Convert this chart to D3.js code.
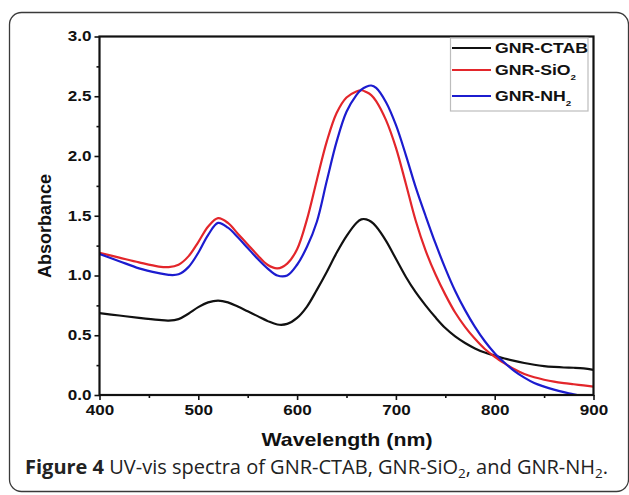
<!DOCTYPE html>
<html lang="en">
<head>
<meta charset="UTF-8">
<title>UV-vis spectra</title>
<script src="https://cdn.jsdelivr.net/npm/d3@7"></script>
<style>
  body { margin: 0; background: #fff; }
  svg { display: block; }
</style>
</head>
<body>
<div id="chart"></div>
<script>
// wavelength grid (nm)
const wavelengths = [400,420,440,460,470,480,490,500,510,520,530,540,550,560,570,580,590,600,610,620,
  630,640,650,660,665,670,675,680,690,700,710,720,730,740,750,760,770,780,790,800,
  810,820,830,840,850,860,870,880,890,900];

const ctab = [0.685,0.665,0.645,0.628,0.623,0.635,0.68,0.735,0.775,0.79,0.775,0.74,0.70,0.66,0.62,0.59,0.595,0.645,0.74,0.88,
  1.03,1.19,1.33,1.44,1.47,1.47,1.45,1.41,1.29,1.14,0.99,0.86,0.75,0.65,0.56,0.49,0.435,0.39,0.355,0.33,
  0.305,0.285,0.268,0.253,0.242,0.235,0.23,0.228,0.223,0.21];

const sio2 = [1.19,1.15,1.11,1.075,1.07,1.09,1.16,1.28,1.41,1.48,1.44,1.35,1.26,1.17,1.09,1.06,1.10,1.22,1.47,1.80,
  2.12,2.36,2.49,2.54,2.55,2.535,2.51,2.46,2.30,2.07,1.77,1.46,1.21,1.01,0.84,0.69,0.57,0.47,0.385,0.32,
  0.265,0.215,0.175,0.148,0.128,0.112,0.10,0.09,0.08,0.07];

const nh2 = [1.18,1.12,1.06,1.02,1.005,1.01,1.07,1.19,1.34,1.44,1.40,1.32,1.23,1.14,1.06,1.00,1.00,1.09,1.24,1.45,
  1.79,2.12,2.37,2.51,2.555,2.58,2.59,2.57,2.45,2.26,2.01,1.74,1.50,1.27,1.06,0.87,0.71,0.57,0.45,0.35,
  0.27,0.20,0.145,0.10,0.07,0.045,0.024,0.006,-0.015,-0.035];

const seriesNames = ['GNR-CTAB', 'GNR-SiO', 'GNR-NH'];
const seriesSubs = ['', '2', '2'];
const seriesColors = ['#111111', '#e3262b', '#1c1ccf'];
const seriesValues = [ctab, sio2, nh2];

const xTicks = [400, 500, 600, 700, 800, 900];
const yTicks = [0.0, 0.5, 1.0, 1.5, 2.0, 2.5, 3.0];

const W = 629, H = 495;
const stretch = 1.22; // original figure is stretched horizontally

const svg = d3.select('#chart').append('svg')
  .attr('width', W).attr('height', H);

// rounded figure frame
svg.append('rect')
  .attr('x', 9.5).attr('y', 12.5)
  .attr('width', 619).attr('height', 479)
  .attr('rx', 12)
  .attr('fill', 'none')
  .attr('stroke', '#3a3a3a')
  .attr('stroke-width', 1.3);

const x = d3.scaleLinear().domain([400, 900]).range([99.5, 593.5]);
const y = d3.scaleLinear().domain([0, 3]).range([395, 36.5]);

svg.append('clipPath').attr('id', 'plotclip')
  .append('rect')
  .attr('x', x(400)).attr('y', y(3))
  .attr('width', x(900) - x(400)).attr('height', y(0) - y(3));

// curves
const line = d3.line()
  .x((d, i) => x(wavelengths[i]))
  .y(d => y(d))
  .curve(d3.curveCatmullRom);

const curves = svg.append('g').attr('clip-path', 'url(#plotclip)');
seriesValues.forEach((vals, k) => {
  curves.append('path')
    .datum(vals)
    .attr('d', line)
    .attr('fill', 'none')
    .attr('stroke', seriesColors[k])
    .attr('stroke-width', 2.2)
    .attr('stroke-linejoin', 'round');
});

// horizontal stretch of a label around its anchor
function stretchText(sel, tx) {
  sel.attr('transform', `translate(${tx},0) scale(${stretch},1) translate(${-tx},0)`);
}

const xAxis = svg.append('g')
  .attr('transform', `translate(0,${y(0)})`)
  .call(d3.axisBottom(x).tickValues(xTicks).tickFormat(d3.format('d')).tickSize(5).tickPadding(5));
xAxis.append('g').call(d3.axisBottom(x).tickValues([450, 550, 650, 750, 850]).tickSize(3).tickFormat(''));

const yAxis = svg.append('g')
  .attr('transform', `translate(${x(400)},0)`)
  .call(d3.axisLeft(y).tickValues(yTicks).tickFormat(d3.format('.1f')).tickSize(5).tickPadding(3));
yAxis.append('g').call(d3.axisLeft(y).tickValues([0.25, 0.75, 1.25, 1.75, 2.25, 2.75]).tickSize(3).tickFormat(''));

[xAxis, yAxis].forEach(a => {
  a.selectAll('.domain').remove();
  a.selectAll('line').attr('stroke', '#111').attr('stroke-width', 1.6);
  a.selectAll('text')
    .attr('font-family', 'Liberation Sans, Arial, sans-serif')
    .attr('font-weight', 'bold')
    .attr('font-size', 14)
    .attr('fill', '#111');
});
xAxis.selectAll('.tick text').attr('transform', `scale(${stretch},1)`);
yAxis.selectAll('.tick text').each(function () {
  const t = d3.select(this);
  stretchText(t, +t.attr('x'));
});

// plot box
svg.append('rect')
  .attr('x', x(400)).attr('y', y(3))
  .attr('width', x(900) - x(400)).attr('height', y(0) - y(3))
  .attr('fill', 'none')
  .attr('stroke', '#111')
  .attr('stroke-width', 2.2);

// axis titles
const xt = svg.append('text')
  .attr('x', 347).attr('y', 446)
  .attr('text-anchor', 'middle')
  .attr('font-family', 'Liberation Sans, Arial, sans-serif')
  .attr('font-weight', 'bold')
  .attr('font-size', 17.5)
  .attr('fill', '#111')
  .text('Wavelength (nm)');
stretchText(xt, 347);

svg.append('text')
  .attr('transform', `translate(51,226) rotate(-90)`)
  .attr('text-anchor', 'middle')
  .attr('font-family', 'Liberation Sans, Arial, sans-serif')
  .attr('font-weight', 'bold')
  .attr('font-size', 18)
  .attr('fill', '#111')
  .text('Absorbance');

// legend
const lg = svg.append('g');
lg.append('rect')
  .attr('x', 450.5).attr('y', 38)
  .attr('width', 137.5).attr('height', 73)
  .attr('fill', '#fff')
  .attr('stroke', '#bdbdbd')
  .attr('stroke-width', 1.2);
const legendY = [48, 70, 96];
seriesNames.forEach((name, k) => {
  lg.append('line')
    .attr('x1', 452).attr('x2', 491)
    .attr('y1', legendY[k]).attr('y2', legendY[k])
    .attr('stroke', seriesColors[k])
    .attr('stroke-width', 2.2);
  const t = lg.append('text')
    .attr('x', 495).attr('y', legendY[k] + 5)
    .attr('font-family', 'Liberation Sans, Arial, sans-serif')
    .attr('font-weight', 'bold')
    .attr('font-size', 14.5)
    .attr('fill', '#111');
  t.append('tspan').text(name);
  if (seriesSubs[k]) {
    t.append('tspan').attr('font-size', 8).attr('dy', 5).text(seriesSubs[k]);
  }
  stretchText(t, 495);
});

// caption
const cap = svg.append('text')
  .attr('x', 25).attr('y', 474)
  .attr('font-family', 'Open Sans, Noto Sans, sans-serif')
  .attr('font-size', 20)
  .attr('fill', '#222');
cap.append('tspan').attr('font-weight', 'bold').text('Figure 4');
cap.append('tspan').text(' UV-vis spectra of GNR-CTAB, GNR-SiO');
cap.append('tspan').attr('font-size', 13.5).attr('dy', 4).text('2');
cap.append('tspan').attr('dy', -4).text(', and GNR-NH');
cap.append('tspan').attr('font-size', 13.5).attr('dy', 4).text('2');
cap.append('tspan').attr('dy', -4).text('.');
</script>
</body>
</html>
